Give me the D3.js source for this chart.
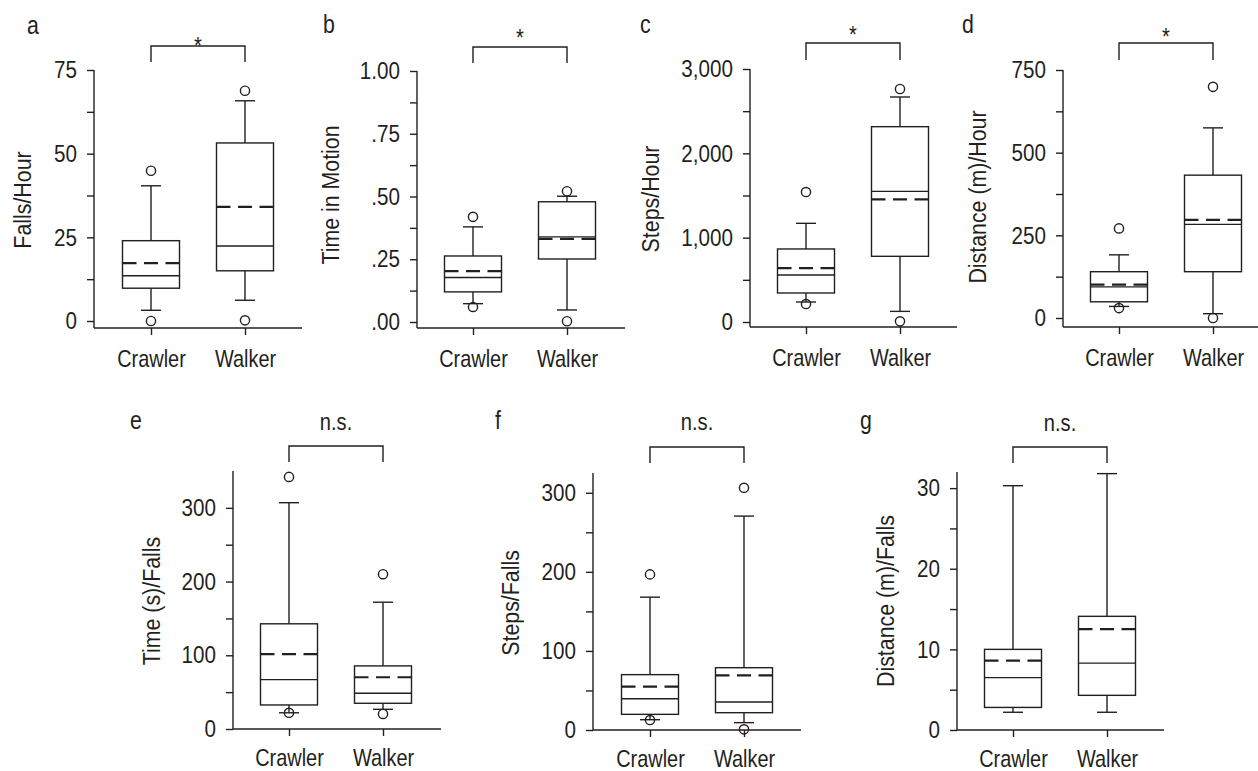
<!DOCTYPE html>
<html><head><meta charset="utf-8">
<script src="https://cdn.jsdelivr.net/npm/d3@7"></script>
<style>
body{margin:0;background:#fff;}
svg text{font-family:"Liberation Sans Narrow","Arial Narrow","Liberation Sans",Arial,sans-serif;fill:#231f20;}
</style></head><body><svg id="chart" width="1258" height="771"></svg>
<script>
const groups = ["Crawler", "Walker"];
// stats order per group: [lower whisker, Q1, median, mean, Q3, upper whisker]
const fallsPerHour = [[3.2, 9.8, 13.5, 17.3, 24.0, 40.4], [6.2, 15.0, 22.4, 34.1, 53.2, 65.8]];
const fallsPerHourOut = [[0, 44.9], [0.2, 68.8]];
const timeInMotion = [[0.073, 0.120, 0.177, 0.203, 0.263, 0.379], [0.048, 0.251, 0.339, 0.331, 0.479, 0.501]];
const timeInMotionOut = [[0.060, 0.419], [0.003, 0.521]];
const stepsPerHour = [[237, 344, 557, 640, 866, 1170], [126, 779, 1549, 1455, 2316, 2668]];
const stepsPerHourOut = [[213, 1541], [8, 2763]];
const distPerHour = [[35, 49, 94, 101, 140, 191], [13, 140, 283, 297, 432, 575]];
const distPerHourOut = [[30, 271], [0, 699]];
const timePerFall = [[22, 32.6, 67, 101.5, 142.7, 307], [26.7, 34.9, 48.5, 70.2, 85.6, 172]];
const timePerFallOut = [[22, 342], [20.4, 210]];
const stepsPerFall = [[13, 19.8, 39.6, 54.8, 70, 168], [9.3, 21.9, 35.4, 69.1, 78.8, 270.5]];
const stepsPerFallOut = [[12.6, 196.8], [0.8, 306.3]];
const distPerFall = [[2.2, 2.8, 6.5, 8.6, 10.0, 30.3], [2.2, 4.3, 8.3, 12.5, 14.1, 31.8]];
const distPerFallOut = [[], []];

const ticksA = [0, 25, 50, 75], minorA = [12.5, 37.5, 62.5];
const ticksB = [0, 0.25, 0.5, 0.75, 1], minorB = [0.125, 0.375, 0.625, 0.875];
const ticksC = [0, 1000, 2000, 3000], minorC = [500, 1500, 2500];
const ticksD = [0, 250, 500, 750], minorD = [125, 375, 625];
const ticksE = [0, 100, 200, 300], minorE = [50, 150, 250];
const ticksF = [0, 100, 200, 300], minorF = [50, 150, 250];
const ticksG = [0, 10, 20, 30], minorG = [5, 15, 25];
const sigLabels = ["*", "*", "*", "*", "n.s.", "n.s.", "n.s."];
const panelLetters = ["a", "b", "c", "d", "e", "f", "g"];
const yTitles = ["Falls/Hour", "Time in Motion", "Steps/Hour", "Distance (m)/Hour", "Time (s)/Falls", "Steps/Falls", "Distance (m)/Falls"];

const fmtInt = d3.format(",");
const fmtProp = d => d === 1 ? "1.00" : d3.format(".2f")(d).replace(/^0/, "");

const panels = [
  {stats: fallsPerHour, out: fallsPerHourOut, domain: [0, 75], major: ticksA, minor: minorA, fmt: fmtInt,
   ax: 94, y0: 321, yTop: 70, xAxisY: 328, xEnd: 302, co: 57, wo: 151,
   letter: [27, 34], title: [23, 200], brTop: 46, brBot: 62, sigY: 54, sigSize: 24},
  {stats: timeInMotion, out: timeInMotionOut, domain: [0, 1], major: ticksB, minor: minorB, fmt: fmtProp,
   ax: 417, y0: 322, yTop: 71, xAxisY: 328, xEnd: 625, co: 56, wo: 150,
   letter: [323, 33], title: [331, 195], brTop: 47, brBot: 63, sigY: 45.5, sigSize: 24},
  {stats: stepsPerHour, out: stepsPerHourOut, domain: [0, 3000], major: ticksC, minor: minorC, fmt: fmtInt,
   ax: 750, y0: 322, yTop: 69, xAxisY: 327, xEnd: 957, co: 56, wo: 150,
   letter: [640, 33], title: [651, 199], brTop: 43, brBot: 60, sigY: 42.5, sigSize: 24},
  {stats: distPerHour, out: distPerHourOut, domain: [0, 750], major: ticksD, minor: minorD, fmt: fmtInt,
   ax: 1063, y0: 318, yTop: 70, xAxisY: 327, xEnd: 1270, co: 56, wo: 150,
   letter: [962, 33], title: [978, 197], brTop: 43, brBot: 60, sigY: 44.5, sigSize: 24},
  {stats: timePerFall, out: timePerFallOut, domain: [0, 350], major: ticksE, minor: minorE, fmt: fmtInt,
   ax: 233, y0: 729, yTop: 471, xAxisY: 729, xEnd: 441, co: 56, wo: 150,
   letter: [130, 429], title: [152, 601], brTop: 446, brBot: 462, sigY: 430, sigSize: 24},
  {stats: stepsPerFall, out: stepsPerFallOut, domain: [0, 325], major: ticksF, minor: minorF, fmt: fmtInt,
   ax: 593, y0: 730, yTop: 473, xAxisY: 730, xEnd: 801, co: 57, wo: 151,
   letter: [495, 429], title: [511, 603], brTop: 447, brBot: 463, sigY: 430, sigSize: 24},
  {stats: distPerFall, out: distPerFallOut, domain: [0, 32], major: ticksG, minor: minorG, fmt: fmtInt,
   ax: 957, y0: 730, yTop: 472, xAxisY: 730, xEnd: 1164, co: 56, wo: 150,
   letter: [860, 429], title: [886, 601], brTop: 447, brBot: 463, sigY: 431, sigSize: 24}
];

const svg = d3.select("#chart");
const INK = "#231f20";
const SW = 1.4;
const BOXW = 57, CAP = 10;

// horizontally condense text (reference uses a condensed face)
function condense(sel, sx) {
  sel.each(function () {
    const t = d3.select(this);
    const x = +t.attr("x") || 0, y = +t.attr("y") || 0;
    t.attr("x", 0).attr("y", 0).attr("transform", `translate(${x},${y}) scale(${sx},1)`);
  });
}

panels.forEach((p, i) => {
  const g = svg.append("g");
  const y = d3.scaleLinear().domain(p.domain).range([p.y0, p.yTop]);
  const x = d3.scalePoint().domain(groups).range([p.ax + p.co, p.ax + p.wo]);
  const row2 = i >= 4;

  // y axis major ticks + labels
  const ga = g.append("g").attr("transform", `translate(${p.ax},0)`)
    .call(d3.axisLeft(y).tickValues(p.major).tickFormat(p.fmt).tickSize(7).tickPadding(10).tickSizeOuter(0));
  ga.select(".domain").remove();
  ga.selectAll("line").attr("stroke", INK).attr("stroke-width", SW);
  ga.selectAll("text").attr("font-size", "24px").attr("font-family", null).attr("fill", INK);
  condense(ga.selectAll("text"), 0.86);
  // minor ticks
  const gm = g.append("g").attr("transform", `translate(${p.ax},0)`)
    .call(d3.axisLeft(y).tickValues(p.minor).tickFormat("").tickSize(7).tickSizeOuter(0));
  gm.select(".domain").remove();
  gm.selectAll("line").attr("stroke", INK).attr("stroke-width", SW);
  // y axis line
  g.append("line").attr("x1", p.ax).attr("x2", p.ax).attr("y1", y(p.domain[1])).attr("y2", p.xAxisY)
    .attr("stroke", INK).attr("stroke-width", SW);

  // x axis
  const gx = g.append("g").attr("transform", `translate(0,${p.xAxisY})`)
    .call(d3.axisBottom(x).tickSize(7).tickPadding(row2 ? 13 : 15).tickSizeOuter(0));
  gx.select(".domain").remove();
  gx.selectAll("line").attr("stroke", INK).attr("stroke-width", SW);
  gx.selectAll("text").attr("font-size", "24px").attr("font-family", null).attr("fill", INK);
  condense(gx.selectAll("text"), 0.83);
  g.append("line").attr("x1", p.ax).attr("x2", p.xEnd).attr("y1", p.xAxisY).attr("y2", p.xAxisY)
    .attr("stroke", INK).attr("stroke-width", SW);

  // boxes
  groups.forEach((grp, k) => {
    const s = p.stats[k];
    const cx = x(grp);
    p.out[k].forEach(v => {
      g.append("circle").attr("cx", cx).attr("cy", y(v)).attr("r", 4.6)
        .attr("fill", "none").attr("stroke", INK).attr("stroke-width", SW);
    });
    [[s[5], s[4]], [s[0], s[1]]].forEach(([w, b]) => {
      g.append("line").attr("x1", cx).attr("x2", cx).attr("y1", y(w)).attr("y2", y(b))
        .attr("stroke", INK).attr("stroke-width", SW);
      g.append("line").attr("x1", cx - CAP).attr("x2", cx + CAP).attr("y1", y(w)).attr("y2", y(w))
        .attr("stroke", INK).attr("stroke-width", SW);
    });
    g.append("rect").attr("x", cx - BOXW / 2).attr("width", BOXW)
      .attr("y", y(s[4])).attr("height", y(s[1]) - y(s[4]))
      .attr("fill", "none").attr("stroke", INK).attr("stroke-width", SW);
    g.append("line").attr("x1", cx - BOXW / 2).attr("x2", cx + BOXW / 2).attr("y1", y(s[2])).attr("y2", y(s[2]))
      .attr("stroke", INK).attr("stroke-width", SW);
    g.append("line").attr("x1", cx - BOXW / 2).attr("x2", cx + BOXW / 2).attr("y1", y(s[3])).attr("y2", y(s[3]))
      .attr("stroke", INK).attr("stroke-width", 2.2).attr("stroke-dasharray", "14,7.5");
  });

  // significance bracket
  const c1 = x(groups[0]), c2 = x(groups[1]);
  g.append("path").attr("d", `M${c1},${p.brBot}V${p.brTop}H${c2}V${p.brBot}`)
    .attr("fill", "none").attr("stroke", INK).attr("stroke-width", SW);
  const sig = g.append("text").attr("x", (c1 + c2) / 2).attr("y", p.sigY).attr("text-anchor", "middle")
    .attr("font-size", p.sigSize + "px").text(sigLabels[i]);
  condense(sig, 0.84);

  // panel letter
  const lt = g.append("text").attr("x", p.letter[0]).attr("y", p.letter[1]).attr("font-size", "26px").text(panelLetters[i]);
  condense(lt, 0.82);
  // y title
  g.append("text").attr("transform", `translate(${p.title[0]},${p.title[1]}) rotate(-90) scale(0.89,1)`)
    .attr("text-anchor", "middle").attr("dominant-baseline", "central")
    .attr("font-size", "24px").text(yTitles[i]);
});
</script></body></html>
